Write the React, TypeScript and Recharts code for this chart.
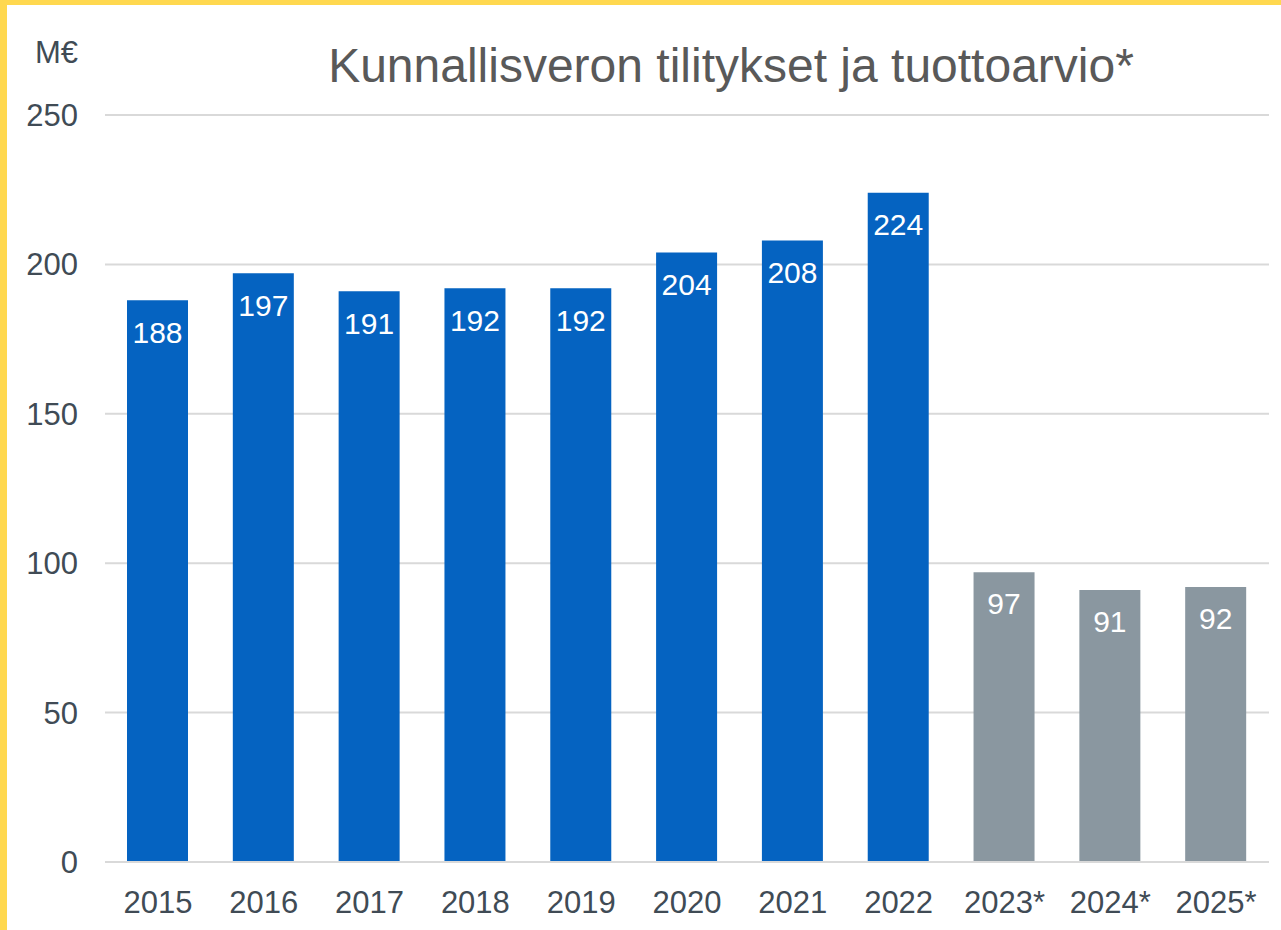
import { BarChart, Bar, XAxis, YAxis, CartesianGrid, Cell, LabelList } from 'recharts';

const years = ['2015', '2016', '2017', '2018', '2019', '2020', '2021', '2022', '2023*', '2024*', '2025*'];
const taxValues = [188, 197, 191, 192, 192, 204, 208, 224, 97, 91, 92];
const isEstimate = [false, false, false, false, false, false, false, false, true, true, true];
const yTicks = [0, 50, 100, 150, 200, 250];

const data = years.map((year, i) => ({ year, value: taxValues[i], estimate: isEstimate[i] }));

const FONT = '"Liberation Sans", Arial, Helvetica, sans-serif';
const BLUE = '#0563C1';
const GREY = '#8A97A0';
const YELLOW = '#FFD84F';
const AXIS_TEXT = '#404B55';

export default function App() {
  return (
    <div
      style={{
        position: 'absolute',
        left: 0,
        top: 0,
        width: 1281,
        height: 930,
        background: '#fff',
        overflow: 'hidden',
        fontFamily: FONT,
      }}
    >
      <BarChart
        width={1281}
        height={930}
        data={data}
        margin={{ top: 115, right: 12, bottom: 0, left: 1 }}
        style={{ fontFamily: FONT }}
      >
        <CartesianGrid vertical={false} stroke="#D9D9D9" strokeWidth={2} />
        <XAxis
          dataKey="year"
          height={68}
          axisLine={{ stroke: '#D9D9D9', strokeWidth: 2 }}
          tickLine={false}
          tickSize={0}
          tickMargin={29}
          tick={{ fill: AXIS_TEXT, fontSize: 31 }}
        />
        <YAxis
          width={104}
          domain={[0, 250]}
          ticks={yTicks}
          axisLine={false}
          tickLine={false}
          tickSize={0}
          tickMargin={27}
          tick={{ fill: AXIS_TEXT, fontSize: 31 }}
        />
        <Bar dataKey="value" barSize={61} isAnimationActive={false}>
          {data.map((d) => (
            <Cell key={d.year} fill={d.estimate ? GREY : BLUE} />
          ))}
          <LabelList dataKey="value" position="insideTop" offset={21} fill="#fff" fontSize={30} />
        </Bar>
      </BarChart>
      <svg
        width={1281}
        height={930}
        style={{ position: 'absolute', left: 0, top: 0, pointerEvents: 'none' }}
      >
        <text x={78} y={63} textAnchor="end" fontSize={31} fill={AXIS_TEXT} fontFamily={FONT}>
          M€
        </text>
        <text x={731} y={82} textAnchor="middle" fontSize={48} fill="#595959" fontFamily={FONT}>
          Kunnallisveron tilitykset ja tuottoarvio*
        </text>
      </svg>
      <div style={{ position: 'absolute', left: 0, top: 0, width: 1281, height: 5, background: YELLOW }} />
      <div style={{ position: 'absolute', left: 0, top: 0, width: 7, height: 930, background: YELLOW }} />
    </div>
  );
}
